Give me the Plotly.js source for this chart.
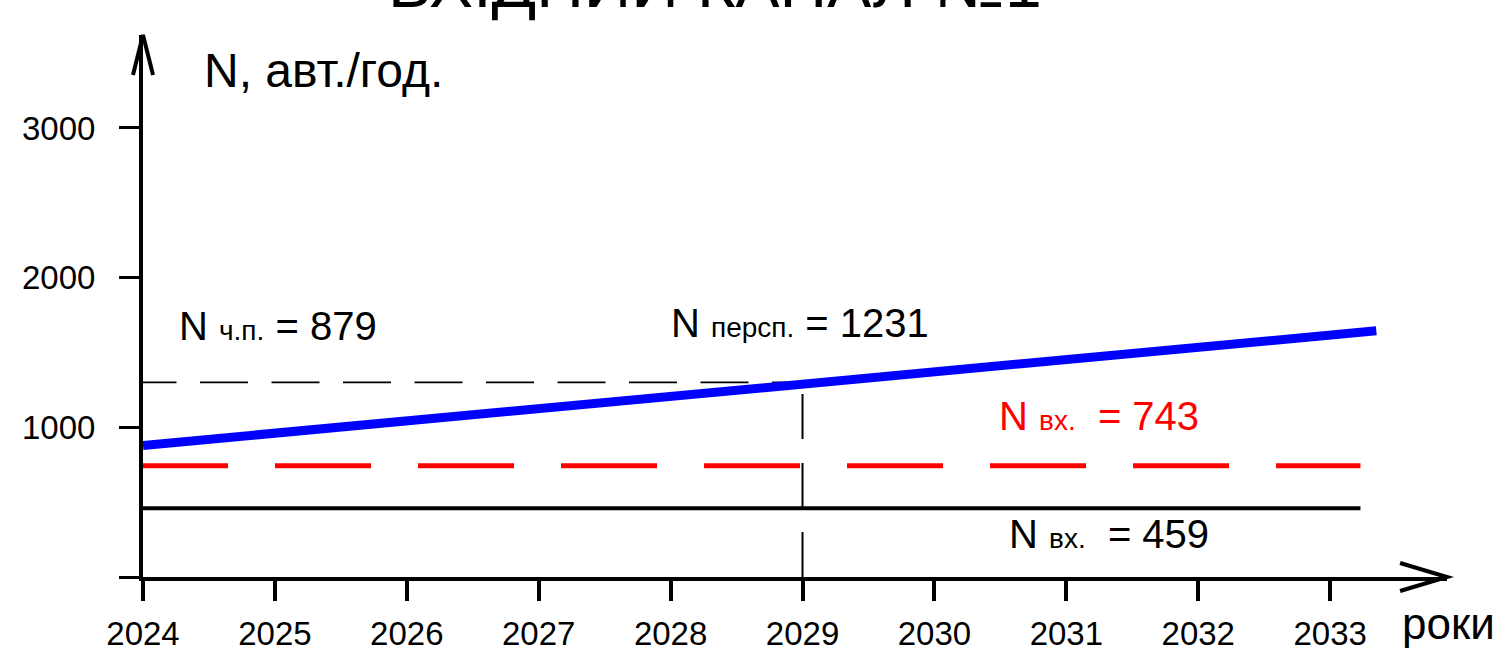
<!DOCTYPE html>
<html>
<head>
<meta charset="utf-8">
<script src="https://cdn.plot.ly/plotly-3.0.1.min.js"></script>
<style>
html,body{margin:0;padding:0;background:#fff;}
#chart{width:1500px;height:649px;}
</style>
</head>
<body>
<div id="chart"></div>
<script>
// ---- data ----
const years = [2024, 2025, 2026, 2027, 2028, 2029, 2030, 2031, 2032, 2033];
const yearLabels = ['2024', '2025', '2026', '2027', '2028', '2029', '2030', '2031', '2032', '2033'];
const yTickVals = [0, 1000, 2000, 3000];
const yTickText = ['', '1000', '2000', '3000'];

const perspX = [2024, 2033.35];          // blue growth line
const perspY = [879, 1645];
const inRedX = [2023.917, 2033.23];      // red dashed level (starts at the axis)
const inRedY = [743, 743];
const inBlackX = [2024, 2033.23];        // black solid level
const inBlackY = [459, 459];
const refYear = 2029;                    // projection year
const refLevel = 1300;                   // level read at the projection year
const refStartX = 2023.89;               // dashed guide starts at the axis

const FONT = 'Liberation Sans, Arial, sans-serif';

const traces = [
  {x: inBlackX, y: inBlackY, mode: 'lines', line: {color: '#000000', width: 4}, hoverinfo: 'skip'},
  {x: inRedX, y: inRedY, mode: 'lines', line: {color: '#ff0000', width: 5, dash: '96px,47px'}, hoverinfo: 'skip'},
  {x: [refStartX, refYear], y: [refLevel, refLevel], mode: 'lines', line: {color: '#000000', width: 1.8, dash: '48px,23.5px'}, hoverinfo: 'skip'},
  {x: [refYear, refYear], y: [0, refLevel], mode: 'lines', line: {color: '#000000', width: 2, dash: '45px,24px'}, hoverinfo: 'skip'},
  {x: perspX, y: perspY, mode: 'lines', line: {color: '#0000ff', width: 9}, hoverinfo: 'skip'}
];

const annFont = (size, color) => ({family: FONT, size: size, color: color || '#000000'});
const sub = (t) => '<span style="font-size:28px">' + t + '</span>';

const annotations = [
  {text: 'ВХІДНИЙ КАНАЛ №1', x: 0.4387, y: 1.167, xref: 'paper', yref: 'paper', xanchor: 'center', yanchor: 'top', showarrow: false, font: annFont(66)},
  {text: 'N, авт./год.', x: 2024.447, y: 3575, xref: 'x', yref: 'y', xanchor: 'left', yanchor: 'top', showarrow: false, font: annFont(48)},
  {text: 'N ' + sub('ч.п.') + ' = ' + perspY[0], x: 2024.26, y: 1837, xref: 'x', yref: 'y', xanchor: 'left', yanchor: 'top', showarrow: false, font: annFont(40)},
  {text: 'N ' + sub('персп.') + ' = 1231', x: 2027.99, y: 1860, xref: 'x', yref: 'y', xanchor: 'left', yanchor: 'top', showarrow: false, font: annFont(40)},
  {text: 'N ' + sub('вх.') + '&nbsp; = ' + inRedY[0], x: 2030.475, y: 1235, xref: 'x', yref: 'y', xanchor: 'left', yanchor: 'top', showarrow: false, font: annFont(40, '#ff0000')},
  {text: 'N ' + sub('вх.') + '&nbsp; = ' + inBlackY[0], x: 2030.55, y: 448, xref: 'x', yref: 'y', xanchor: 'left', yanchor: 'top', showarrow: false, font: annFont(40)},
  {text: 'роки', x: 0.964, y: -0.0369, xref: 'paper', yref: 'paper', xanchor: 'left', yanchor: 'top', showarrow: false, font: annFont(44)}
];

const shapes = [
  // arrow head on the y axis
  {type: 'path', xref: 'paper', yref: 'paper', path: 'M -0.0077 0.926 L 0 1 L 0.0077 0.926', line: {color: '#000', width: 4}},
  // arrow head on the x axis
  {type: 'path', xref: 'paper', yref: 'paper', path: 'M 0.964 0.0258 L 1 0 L 0.964 -0.0258', line: {color: '#000', width: 4}}
];

const layout = {
  width: 1500, height: 649,
  margin: {l: 143, r: 53, t: 35, b: 72, pad: 0},
  paper_bgcolor: '#ffffff', plot_bgcolor: '#ffffff',
  showlegend: false,
  xaxis: {
    range: [2024, 2033.886], showgrid: false, zeroline: false,
    showline: true, linecolor: '#000', linewidth: 4,
    tickmode: 'array', tickvals: years, ticktext: yearLabels,
    ticks: 'outside', ticklen: 20, tickwidth: 4, tickcolor: '#000',
    ticklabelstandoff: 4,
    tickfont: {family: FONT, size: 33, color: '#000'}
  },
  yaxis: {
    range: [0, 3621.3], showgrid: false, zeroline: false,
    showline: true, linecolor: '#000', linewidth: 4,
    tickmode: 'array', tickvals: yTickVals, ticktext: yTickText,
    ticks: 'outside', ticklen: 20, tickwidth: 3, tickcolor: '#000',
    ticklabelstandoff: 17,
    tickfont: {family: FONT, size: 33, color: '#000'}
  },
  annotations: annotations,
  shapes: shapes
};

Plotly.newPlot('chart', traces, layout, {displayModeBar: false, staticPlot: true});
</script>
</body>
</html>
